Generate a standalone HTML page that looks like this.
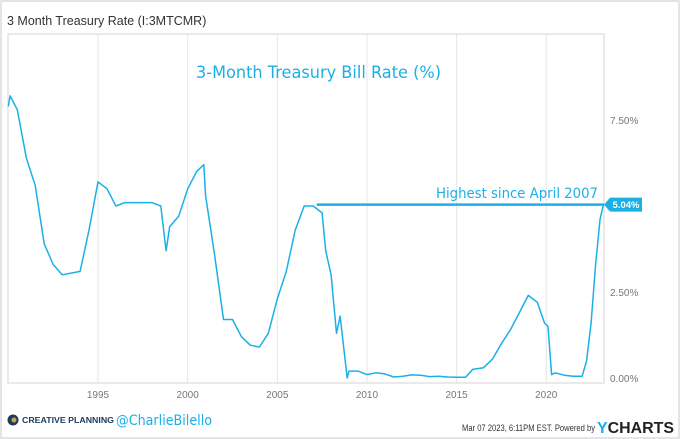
<!DOCTYPE html>
<html><head><meta charset="utf-8"><style>
body{margin:0;background:#fff;}
#wrap{position:relative;width:680px;height:439px;overflow:hidden;font-family:"Liberation Sans",sans-serif;}
</style></head><body>
<div id="wrap">
<svg id="chart" width="680" height="439">
<rect x="1" y="1" width="678" height="437" fill="#fff" stroke="#dcdcdc" stroke-width="1.5"/>
<text x="7" y="25" font-size="12.5" fill="#333">3 Month Treasury Rate (I:3MTCMR)</text>
<g id="grid"></g>
<rect x="8" y="34" width="596" height="349" fill="none" stroke="#d6d6d6"/>
<text x="196" y="78" font-size="17" fill="#1ab0e6" textLength="245" lengthAdjust="spacingAndGlyphs" font-family="'DejaVu Sans',sans-serif">3-Month Treasury Bill Rate (%)</text>
<text x="436" y="198" font-size="14" fill="#1ab0e6" textLength="162" lengthAdjust="spacingAndGlyphs" font-family="'DejaVu Sans',sans-serif">Highest since April 2007</text>
<g id="series"></g>
<g id="footer">
<circle cx="13" cy="420" r="5.5" fill="#1d3b5a"/>
<circle cx="14" cy="420" r="2.5" fill="#c8a25a"/>
<text x="22" y="423" font-size="8" font-weight="bold" fill="#1d3b5a" textLength="92" lengthAdjust="spacingAndGlyphs">CREATIVE PLANNING</text>
<text x="116" y="425" font-size="14" fill="#1ab0e6" textLength="96" lengthAdjust="spacingAndGlyphs" font-family="'DejaVu Sans',sans-serif">@CharlieBilello</text>
<text x="462" y="431" font-size="9" fill="#333" textLength="133" lengthAdjust="spacingAndGlyphs">Mar 07 2023, 6:11PM EST.  Powered by</text>
<text x="597" y="433" font-size="16" font-weight="bold" fill="#222" textLength="77" lengthAdjust="spacingAndGlyphs"><tspan fill="#1ab0e6">Y</tspan>CHARTS</text>
</g>
</svg>
</div>
<script>
const xTicks=[1995,2000,2005,2010,2015,2020];
const yTicks=[0,2.5,5,7.5];
const yTickLabels=["0.00%","2.50%","5.00%","7.50%"];
const years=[1990.0,1990.1,1990.5,1991.0,1991.5,1992.0,1992.5,1993.0,1993.5,1994.0,1994.5,1995.0,1995.5,1996.0,1996.5,1997.0,1997.5,1998.0,1998.5,1998.8,1999.0,1999.5,2000.0,2000.5,2000.9,2001.0,2001.5,2002.0,2002.5,2003.0,2003.5,2004.0,2004.5,2005.0,2005.5,2006.0,2006.5,2007.0,2007.5,2007.7,2008.0,2008.3,2008.5,2008.9,2009.0,2009.5,2010.0,2010.5,2011.0,2011.5,2012.0,2012.5,2013.0,2013.5,2014.0,2014.5,2015.0,2015.5,2015.9,2016.5,2017.0,2017.5,2018.0,2018.5,2019.0,2019.5,2019.9,2020.1,2020.3,2020.5,2021.0,2021.5,2022.0,2022.25,2022.5,2022.75,2023.0,2023.18];
const rates=[7.9,8.2,7.8,6.4,5.6,3.9,3.3,3.0,3.05,3.1,4.3,5.7,5.5,5.0,5.1,5.1,5.1,5.1,5.0,3.7,4.4,4.7,5.5,6.0,6.2,5.3,3.6,1.7,1.7,1.2,0.95,0.9,1.3,2.3,3.1,4.3,5.0,5.0,4.8,3.7,3.0,1.3,1.8,0.0,0.2,0.2,0.1,0.15,0.12,0.03,0.05,0.09,0.08,0.04,0.05,0.03,0.02,0.02,0.25,0.3,0.55,1.0,1.4,1.9,2.4,2.2,1.6,1.5,0.1,0.15,0.08,0.05,0.05,0.5,1.6,3.3,4.6,5.04];
const lastValue=5.04, lastLabel="5.04%", highSince=2007.2;
const NS="http://www.w3.org/2000/svg";
const X=y=>98+(y-1995)*17.93;
const Y=v=>378-v*34.4;
function mk(tag,attrs,parent){const e=document.createElementNS(NS,tag);for(const k in attrs)e.setAttribute(k,attrs[k]);parent.appendChild(e);return e;}
const grid=document.getElementById('grid'),ser=document.getElementById('series');
xTicks.forEach(t=>{
 const l=mk('line',{x1:X(t),x2:X(t),y1:34,y2:383,stroke:'#e6e6e6'},grid);
 
 
 const tx=mk('text',{x:X(t),y:398,'font-size':10,fill:'#777','text-anchor':'middle'},grid);
 tx.textContent=t;
 
 
});
yTicks.forEach((t,i)=>{
 const tx=mk('text',{x:610,y:Y(t)+4,'font-size':10,fill:'#777'},grid);
 tx.textContent=yTickLabels[i];
 
 
});
const hl=mk('line',{x1:X(highSince),x2:604,y1:Y(lastValue),y2:Y(lastValue),stroke:'#1ab0e6','stroke-width':2.5},ser);


const p=mk('polyline',{points:years.map((y,i)=>X(y).toFixed(1)+','+Y(rates[i]).toFixed(1)).join(' '),fill:'none',stroke:'#1ab0e6','stroke-width':1.5,'stroke-linejoin':'round'},ser);


const ly=Y(lastValue);
const tag=mk('path',{d:`M604 ${ly} L610 ${ly-7} L642 ${ly-7} L642 ${ly+7} L610 ${ly+7} Z`,fill:'#1ab0e6'},ser);


const tt=mk('text',{x:626,y:ly+3.5,'font-size':9.5,'font-weight':'bold',fill:'#fff','text-anchor':'middle'},ser);
tt.textContent=lastLabel;


</script>
</body></html>
